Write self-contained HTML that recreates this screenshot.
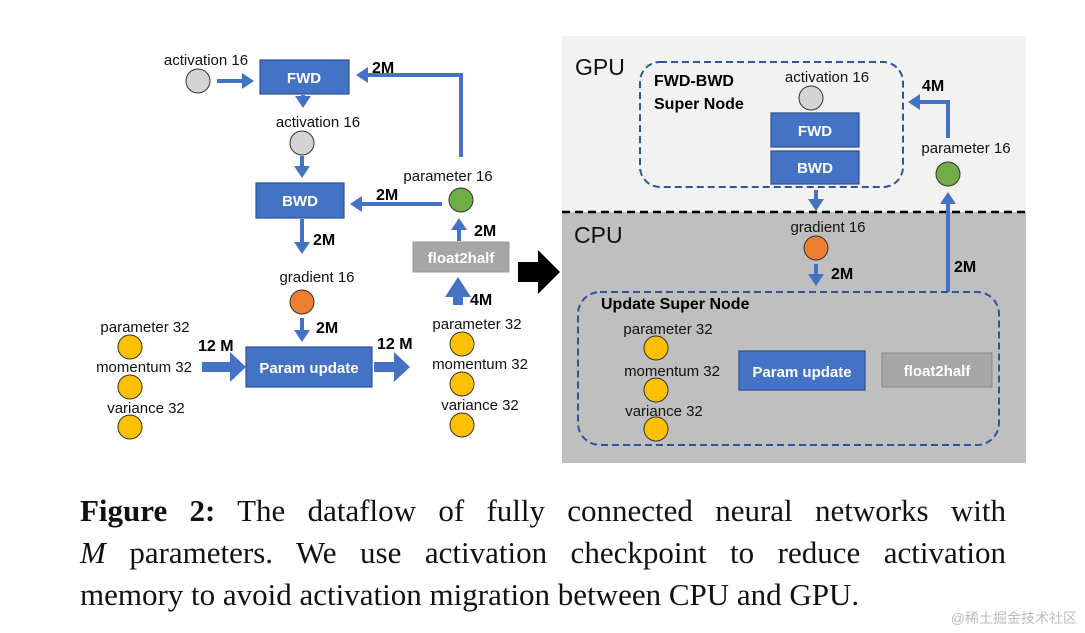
<!DOCTYPE html>
<html><head><meta charset="utf-8"><style>
body{margin:0;background:#fff;width:1085px;height:633px;overflow:hidden;position:relative}
svg{position:absolute;left:0;top:0}
.cap{position:absolute;left:80px;width:926px;font-family:"Liberation Serif",serif;font-size:31px;line-height:42px;text-align:justify;text-align-last:justify;color:#111;white-space:nowrap}
.wm{position:absolute;right:8px;top:608px;font-family:"Liberation Sans","Noto Sans CJK SC",sans-serif;font-size:14px;color:#bbb}
</style></head><body>
<svg width="1085" height="633" font-family="Liberation Sans, sans-serif">
<defs>
<marker id="a" markerWidth="4" markerHeight="4" refX="2" refY="2" orient="auto" markerUnits="strokeWidth"><path d="M0,0L3,2L0,4Z" fill="#4472c4"/></marker>
</defs>
<rect x="562" y="36" width="464" height="176" fill="#f2f2f2"/>
<rect x="562" y="212" width="464" height="251" fill="#bfbfbf"/>
<line x1="562" y1="212" x2="1026" y2="212" stroke="#000" stroke-width="2.5" stroke-dasharray="8,5"/>
<g fill="none" stroke="#4472c4" stroke-width="4">
<line x1="217" y1="81" x2="250" y2="81" marker-end="url(#a)"/>
<polyline points="461,157 461,75 360,75" marker-end="url(#a)"/>
<line x1="303" y1="95" x2="303" y2="104" marker-end="url(#a)"/>
<line x1="302" y1="156" x2="302" y2="174" marker-end="url(#a)"/>
<line x1="442" y1="204" x2="354" y2="204" marker-end="url(#a)"/>
<line x1="302" y1="219" x2="302" y2="250" marker-end="url(#a)"/>
<line x1="302" y1="318" x2="302" y2="338" marker-end="url(#a)"/>
<line x1="459" y1="241" x2="459" y2="222" marker-end="url(#a)"/>
<polyline points="948,138 948,102 912,102" marker-end="url(#a)"/>
<line x1="816" y1="190" x2="816" y2="207" marker-end="url(#a)"/>
<line x1="816" y1="264" x2="816" y2="282" marker-end="url(#a)"/>
<line x1="948" y1="292" x2="948" y2="196" marker-end="url(#a)"/>
</g>
<path d="M449,305h10v-8l8,0 -13,-20 -13,20h8z" fill="#4472c4" transform="translate(4,0)"/>
<path d="M202,362h28v-10l16,15 -16,15v-10h-28z" fill="#4472c4"/>
<path d="M374,362h20v-10l16,15 -16,15v-10h-20z" fill="#4472c4"/>
<path d="M518,262h20v-12l22,22 -22,22v-12h-20z" fill="#000"/>
<g stroke="#2f4f8f" stroke-width="1.2" fill="#4472c4">
<rect x="260" y="60" width="89" height="34"/>
<rect x="256" y="183" width="88" height="35"/>
<rect x="246" y="347" width="126" height="40"/>
<rect x="771" y="113" width="88" height="34"/>
<rect x="771" y="151" width="88" height="33"/>
<rect x="739" y="351" width="126" height="39"/>
</g>
<rect x="413" y="242" width="96" height="30" fill="#a6a6a6" stroke="#999"/>
<rect x="882" y="353" width="110" height="34" fill="#a6a6a6" stroke="#888"/>
<g fill="#fff" font-weight="bold" font-size="15" text-anchor="middle">
<text x="304" y="83">FWD</text><text x="300" y="206">BWD</text>
<text x="309" y="373">Param update</text><text x="461" y="263">float2half</text>
<text x="815" y="136">FWD</text><text x="815" y="173">BWD</text>
<text x="802" y="377">Param update</text><text x="937" y="376">float2half</text>
</g>
<rect x="640" y="62" width="263" height="125" rx="20" fill="none" stroke="#2f5597" stroke-width="2" stroke-dasharray="7,4"/>
<rect x="578" y="292" width="421" height="153" rx="22" fill="none" stroke="#2f5597" stroke-width="2" stroke-dasharray="7,4"/>
<g stroke="#333" stroke-width="1">
<circle cx="198" cy="81" r="12" fill="#d4d4d4"/>
<circle cx="302" cy="143" r="12" fill="#d4d4d4"/>
<circle cx="811" cy="98" r="12" fill="#d4d4d4"/>
<circle cx="461" cy="200" r="12" fill="#70ad47"/>
<circle cx="948" cy="174" r="12" fill="#70ad47"/>
<circle cx="302" cy="302" r="12" fill="#ed7d31"/>
<circle cx="816" cy="248" r="12" fill="#ed7d31"/>
<g fill="#ffc000">
<circle cx="130" cy="347" r="12"/><circle cx="130" cy="387" r="12"/><circle cx="130" cy="427" r="12"/>
<circle cx="462" cy="344" r="12"/><circle cx="462" cy="384" r="12"/><circle cx="462" cy="425" r="12"/>
<circle cx="656" cy="348" r="12"/><circle cx="656" cy="390" r="12"/><circle cx="656" cy="429" r="12"/>
</g></g>
<g font-size="15" fill="#111" text-anchor="middle">
<text x="206" y="65">activation 16</text><text x="318" y="127">activation 16</text>
<text x="448" y="181">parameter 16</text><text x="317" y="282">gradient 16</text>
<text x="145" y="332">parameter 32</text><text x="144" y="372">momentum 32</text><text x="146" y="413">variance 32</text>
<text x="477" y="329">parameter 32</text><text x="480" y="369">momentum 32</text><text x="480" y="410">variance 32</text>
<text x="827" y="82">activation 16</text><text x="966" y="153">parameter 16</text><text x="828" y="232">gradient 16</text>
<text x="668" y="334">parameter 32</text><text x="672" y="376">momentum 32</text><text x="664" y="416">variance 32</text>
</g>
<g font-size="16" font-weight="bold" fill="#000">
<text x="372" y="73">2M</text><text x="376" y="200">2M</text><text x="313" y="245">2M</text>
<text x="474" y="236">2M</text><text x="470" y="305">4M</text><text x="316" y="333">2M</text>
<text x="198" y="351">12 M</text><text x="377" y="349">12 M</text>
<text x="922" y="91">4M</text><text x="831" y="279">2M</text><text x="954" y="272">2M</text>
<text x="654" y="86">FWD-BWD</text><text x="654" y="109">Super Node</text>
<text x="601" y="309">Update Super Node</text>
</g>
<text x="575" y="75" font-size="23" fill="#111">GPU</text>
<text x="574" y="243" font-size="23" fill="#111">CPU</text>
</svg>
<div class="cap" style="top:490px"><b>Figure 2:</b> The dataflow of fully connected neural networks with</div>
<div class="cap" style="top:532px"><i>M</i> parameters. We use activation checkpoint to reduce activation</div>
<div class="cap" style="top:574px;text-align:left;text-align-last:left">memory to avoid activation migration between CPU and GPU.</div>
<div class="wm">@稀土掘金技术社区</div>
</body></html>
